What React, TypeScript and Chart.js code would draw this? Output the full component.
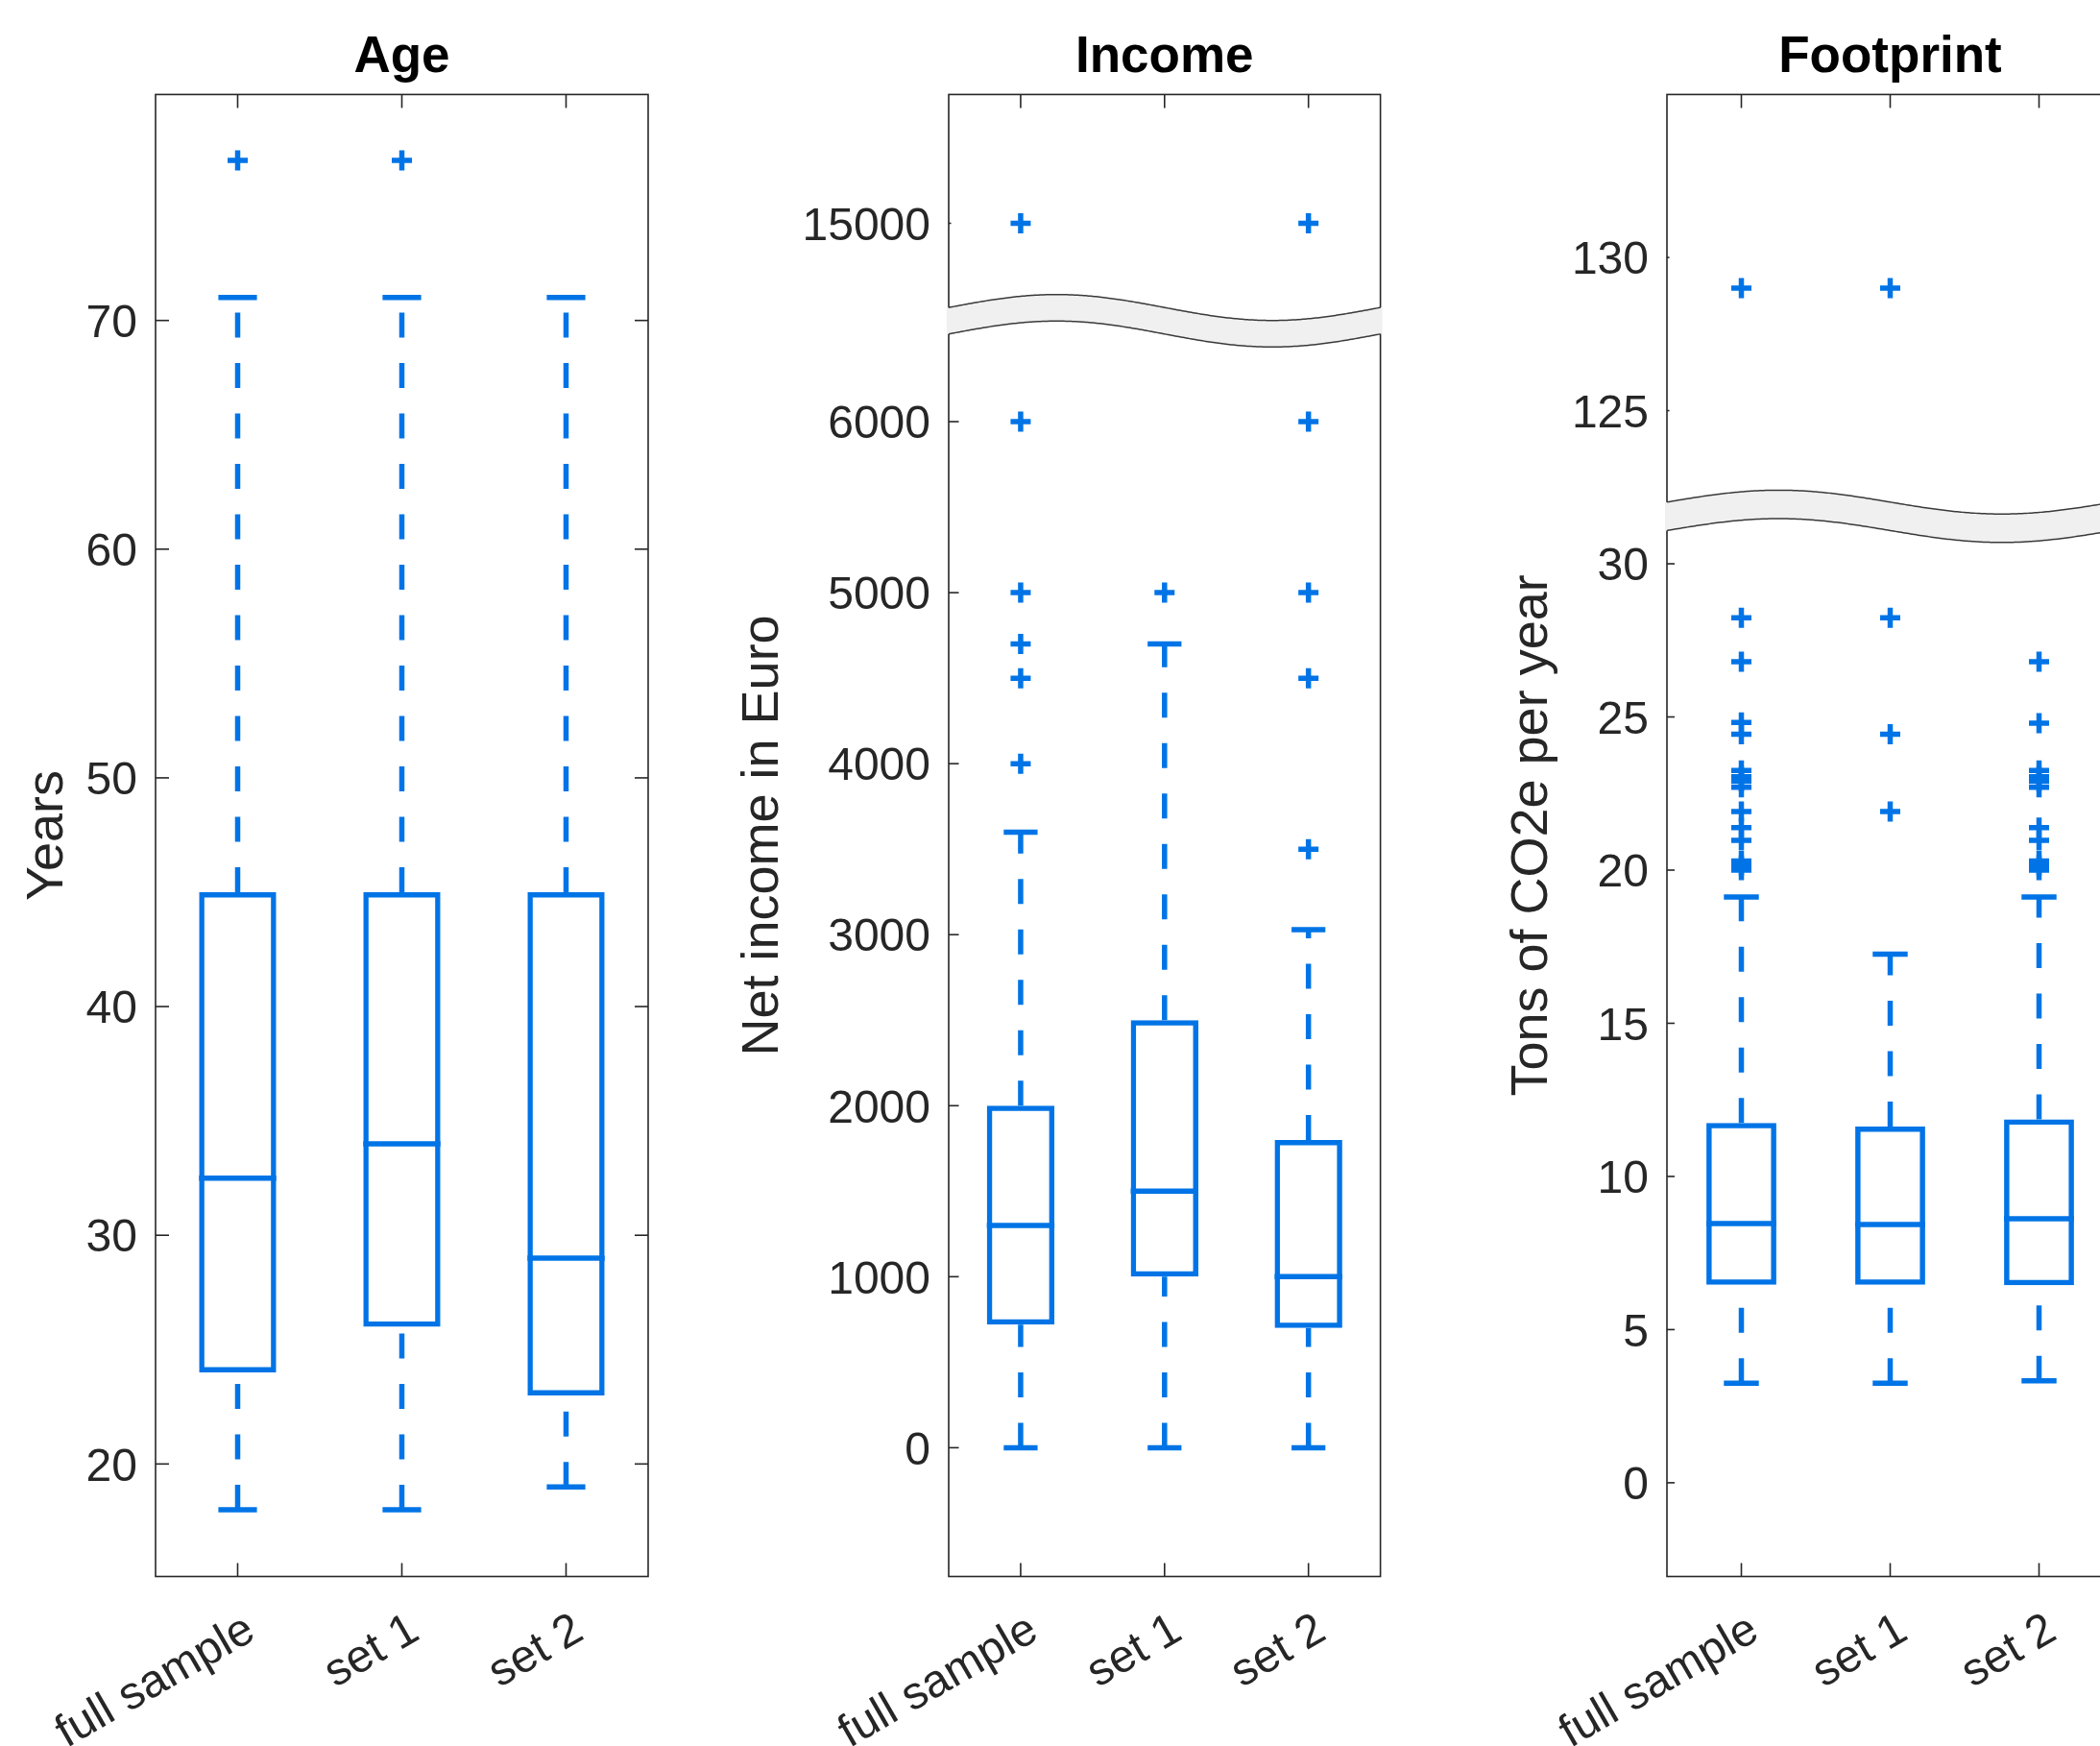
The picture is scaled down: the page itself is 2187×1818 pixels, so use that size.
import React, { useEffect, useRef } from 'react';
import { Chart, registerables } from 'chart.js';

Chart.register(...registerables);

const FONT = '"Liberation Sans", Arial, Helvetica, sans-serif';
const BLUE = '#0074E6';
const AXIS_COLOR = '#262626';
const BAND_FILL = '#f0f0f0';
const BAND_LINE = '#3a3a3a';
const DASH = [26, 26.5];
const LINE_W = 5.5;

const CATEGORIES = ['full sample', 'set 1', 'set 2'];

// ---- Age (years) ----
const AGE_LOWER = [18, 18, 19];
const AGE_Q1 = [24, 26, 23];
const AGE_MEDIAN = [32.5, 34, 29];
const AGE_Q3 = [45, 45, 45];
const AGE_UPPER = [71, 71, 71];
const AGE_OUTLIERS = [[77], [77], []];
const AGE_TICKS = [20, 30, 40, 50, 60, 70];

// ---- Income (net income in Euro) ----
const INCOME_LOWER = [0, 0, 0];
const INCOME_Q1 = [720, 1000, 700];
const INCOME_MEDIAN = [1300, 1500, 1000];
const INCOME_Q3 = [2000, 2500, 1800];
const INCOME_UPPER = [3600, 4700, 3030];
const INCOME_OUTLIERS = [
  [4000, 4500, 4700, 5000, 6000, 15000],
  [5000],
  [3500, 4500, 5000, 6000, 15000],
];
const INCOME_TICKS = [0, 1000, 2000, 3000, 4000, 5000, 6000, 15000];

// ---- Footprint (tons of CO2e per year) ----
const FOOT_LOWER = [3.25, 3.25, 3.33];
const FOOT_Q1 = [6.46, 6.46, 6.45];
const FOOT_MEDIAN = [8.46, 8.43, 8.62];
const FOOT_Q3 = [11.75, 11.63, 11.86];
const FOOT_UPPER = [19.12, 17.26, 19.12];
const FOOT_OUTLIERS = [
  [20.0, 20.15, 20.3, 20.97, 21.39, 21.91, 22.7, 22.9, 23.05, 23.25, 24.44, 24.82, 26.8, 28.24, 129],
  [21.91, 24.44, 28.24, 129],
  [20.0, 20.15, 20.3, 20.97, 21.39, 22.7, 22.9, 23.05, 23.25, 24.8, 26.8],
];
const FOOT_TICKS = [0, 5, 10, 15, 20, 25, 30, 125, 130];

type Panel = {
  key: string;
  title: string;
  yTitle: string;
  lower: number[];
  q1: number[];
  median: number[];
  q3: number[];
  upper: number[];
  outliers: number[][];
  ticks: number[];
  yMin: number;
  yMax: number;
  breakAt: number | null;
  shift: number;
  left: number;
  width: number;
  axisWidth: number;
  padRight: number;
  yTitlePad: number;
  tickLen: number;
  rightTicks: boolean;
  bandHalf: number;
  bandAmp: number;
};

const PANELS: Panel[] = [
  {
    key: 'age', title: 'Age', yTitle: 'Years',
    lower: AGE_LOWER, q1: AGE_Q1, median: AGE_MEDIAN, q3: AGE_Q3, upper: AGE_UPPER,
    outliers: AGE_OUTLIERS, ticks: AGE_TICKS,
    yMin: 15.08, yMax: 79.88, breakAt: null, shift: 0,
    left: 0, width: 700, axisWidth: 162, padRight: 25, yTitlePad: 17.9,
    tickLen: 14, rightTicks: true, bandHalf: 0, bandAmp: 0,
  },
  {
    key: 'income', title: 'Income', yTitle: 'Net income in Euro',
    lower: INCOME_LOWER, q1: INCOME_Q1, median: INCOME_MEDIAN, q3: INCOME_Q3, upper: INCOME_UPPER,
    outliers: INCOME_OUTLIERS, ticks: INCOME_TICKS,
    yMin: -753, yMax: 7913, breakAt: 6590, shift: 7840,
    left: 700, width: 760, axisWidth: 288, padRight: 22.4, yTitlePad: 62.9,
    tickLen: 10.5, rightTicks: false, bandHalf: 13.8, bandAmp: 13.5,
  },
  {
    key: 'footprint', title: 'Footprint', yTitle: 'Tons of CO2e per year',
    lower: FOOT_LOWER, q1: FOOT_Q1, median: FOOT_MEDIAN, q3: FOOT_Q3, upper: FOOT_UPPER,
    outliers: FOOT_OUTLIERS, ticks: FOOT_TICKS,
    yMin: -3.06, yMax: 45.32, breakAt: 31.55, shift: 90,
    left: 1460, width: 760, axisWidth: 276, padRight: 19, yTitlePad: 103.9,
    tickLen: 8, rightTicks: false, bandHalf: 14.8, bandAmp: 12.4,
  },
];

function makeTransform(p: Panel) {
  return (v: number) => (p.breakAt !== null && v > p.breakAt ? v - p.shift : v);
}

function makePlugin(p: Panel) {
  const tf = makeTransform(p);
  const seg = (ctx: CanvasRenderingContext2D, x1: number, y1: number, x2: number, y2: number) => {
    ctx.beginPath();
    ctx.moveTo(x1, y1);
    ctx.lineTo(x2, y2);
    ctx.stroke();
  };
  return {
    id: 'boxExtras',
    afterDatasetsDraw(chart: any) {
      const ctx: CanvasRenderingContext2D = chart.ctx;
      const ys = chart.scales.y;
      const bars = chart.getDatasetMeta(0).data;
      ctx.save();
      ctx.strokeStyle = BLUE;
      ctx.lineWidth = LINE_W;
      ctx.lineCap = 'butt';
      bars.forEach((bar: any, i: number) => {
        const x = bar.x;
        const w = bar.width;
        const yLow = ys.getPixelForValue(tf(p.lower[i]));
        const yQ1 = ys.getPixelForValue(tf(p.q1[i]));
        const yMed = ys.getPixelForValue(tf(p.median[i]));
        const yQ3 = ys.getPixelForValue(tf(p.q3[i]));
        const yUp = ys.getPixelForValue(tf(p.upper[i]));
        ctx.setLineDash(DASH);
        seg(ctx, x, yLow, x, yQ1);
        seg(ctx, x, yQ3, x, yUp);
        ctx.setLineDash([]);
        seg(ctx, x - w / 4, yLow, x + w / 4, yLow);
        seg(ctx, x - w / 4, yUp, x + w / 4, yUp);
        seg(ctx, x - w / 2, yMed, x + w / 2, yMed);
      });
      ctx.restore();
    },
    afterDraw(chart: any) {
      const ctx: CanvasRenderingContext2D = chart.ctx;
      const ca = chart.chartArea;
      const xs = chart.scales.x;
      const ys = chart.scales.y;
      ctx.save();
      ctx.strokeStyle = AXIS_COLOR;
      ctx.lineWidth = 1.6;
      ctx.setLineDash([]);
      ctx.strokeRect(ca.left, ca.top, ca.right - ca.left, ca.bottom - ca.top);
      // inward x ticks (bottom and top)
      xs.ticks.forEach((_t: any, i: number) => {
        const px = xs.getPixelForTick(i);
        seg(ctx, px, ca.bottom, px, ca.bottom - 14);
        seg(ctx, px, ca.top, px, ca.top + 14);
      });
      // inward y ticks
      p.ticks.forEach((v) => {
        const pv = tf(v);
        const py = ys.getPixelForValue(pv);
        const len = pv !== v ? 2.5 : p.tickLen;
        seg(ctx, ca.left, py, ca.left + len, py);
        if (p.rightTicks) seg(ctx, ca.right, py, ca.right - len, py);
      });
      // axis break band
      if (p.breakAt !== null) {
        const yc = ys.getPixelForValue(p.breakAt);
        const W = ca.right - ca.left;
        const wave = (px: number) => -p.bandAmp * Math.sin((2 * Math.PI * (px - ca.left)) / W);
        const N = 240;
        const L = ca.left - 2;
        const R = ca.right + 2;
        ctx.beginPath();
        for (let i = 0; i <= N; i++) {
          const px = L + ((R - L) * i) / N;
          const py = yc - p.bandHalf + wave(px);
          if (i === 0) ctx.moveTo(px, py);
          else ctx.lineTo(px, py);
        }
        for (let i = N; i >= 0; i--) {
          const px = L + ((R - L) * i) / N;
          ctx.lineTo(px, yc + p.bandHalf + wave(px));
        }
        ctx.closePath();
        ctx.fillStyle = BAND_FILL;
        ctx.fill();
        ctx.strokeStyle = BAND_LINE;
        ctx.lineWidth = 1.5;
        for (const sgn of [-1, 1]) {
          ctx.beginPath();
          for (let i = 0; i <= N; i++) {
            const px = ca.left + (W * i) / N;
            const py = yc + sgn * p.bandHalf + wave(px);
            if (i === 0) ctx.moveTo(px, py);
            else ctx.lineTo(px, py);
          }
          ctx.stroke();
        }
      }
      ctx.restore();
    },
  };
}

function buildConfig(p: Panel): any {
  const tf = makeTransform(p);
  const outlierPoints = p.outliers.flatMap((vals, i) => vals.map((v) => ({ x: CATEGORIES[i], y: tf(v) })));
  return {
    type: 'bar',
    data: {
      labels: CATEGORIES,
      datasets: [
        {
          type: 'bar',
          label: 'IQR',
          data: p.q1.map((v, i) => [tf(v), tf(p.q3[i])]),
          backgroundColor: 'rgba(255,255,255,0)',
          borderColor: BLUE,
          borderWidth: LINE_W,
          borderSkipped: false,
          barPercentage: 0.47,
          categoryPercentage: 1,
          inflateAmount: 0,
          order: 2,
        },
        {
          type: 'line',
          label: 'Outliers',
          data: outlierPoints,
          showLine: false,
          pointStyle: 'cross',
          pointRadius: 10.5,
          pointHoverRadius: 10.5,
          pointBorderWidth: 5.5,
          pointBorderColor: BLUE,
          pointBackgroundColor: BLUE,
          borderColor: BLUE,
          order: 1,
        },
      ],
    },
    options: {
      responsive: false,
      animation: false,
      devicePixelRatio: 1,
      events: [],
      layout: { padding: { left: 0, right: p.padRight, top: 0, bottom: 0 } },
      plugins: {
        legend: { display: false },
        tooltip: { enabled: false },
        title: {
          display: true,
          text: p.title,
          fullSize: false,
          color: '#000000',
          font: { family: FONT, size: 53, weight: 'bold', lineHeight: 1.2 },
          padding: { top: 28.3, bottom: 6.5 },
        },
      },
      scales: {
        x: {
          type: 'category',
          offset: true,
          grid: { display: false, drawTicks: false },
          border: { display: false },
          ticks: {
            autoSkip: false,
            minRotation: 30,
            maxRotation: 30,
            padding: 27.6,
            labelOffset: 14,
            color: AXIS_COLOR,
            font: { family: FONT, size: 48, lineHeight: 1.2 },
          },
          afterFit: (s: any) => {
            s.height = 176.5;
            s.paddingLeft = 0;
            s.paddingRight = 0;
          },
        },
        y: {
          type: 'linear',
          min: p.yMin,
          max: p.yMax,
          grid: { display: false, drawTicks: false },
          border: { display: false },
          ticks: {
            autoSkip: false,
            padding: 19,
            labelOffset: 4,
            color: AXIS_COLOR,
            font: { family: FONT, size: 48, lineHeight: 1.2 },
            callback: (_v: any, i: number) => String(p.ticks[i]),
          },
          afterBuildTicks: (s: any) => {
            s.ticks = p.ticks.map((v) => ({ value: tf(v) }));
          },
          afterFit: (s: any) => {
            s.width = p.axisWidth;
            s.paddingTop = 0;
            s.paddingBottom = 0;
          },
          title: {
            display: true,
            text: p.yTitle,
            color: AXIS_COLOR,
            font: { family: FONT, size: 54, lineHeight: 1.2 },
            padding: { top: p.yTitlePad, bottom: 0 },
          },
        },
      },
    },
    plugins: [makePlugin(p)],
  };
}

function BoxPanel({ panel }: { panel: Panel }) {
  const ref = useRef<HTMLCanvasElement | null>(null);
  useEffect(() => {
    if (!ref.current) return;
    const chart = new Chart(ref.current, buildConfig(panel));
    return () => chart.destroy();
  }, [panel]);
  return (
    <canvas
      ref={ref}
      width={panel.width}
      height={1818}
      style={{ position: 'absolute', left: panel.left, top: 0, width: panel.width, height: 1818 }}
    />
  );
}

export default function App() {
  return (
    <div
      style={{
        position: 'fixed',
        left: 0,
        top: 0,
        width: 2187,
        height: 1818,
        overflow: 'hidden',
        background: '#ffffff',
      }}
    >
      {PANELS.map((p) => (
        <BoxPanel key={p.key} panel={p} />
      ))}
    </div>
  );
}
